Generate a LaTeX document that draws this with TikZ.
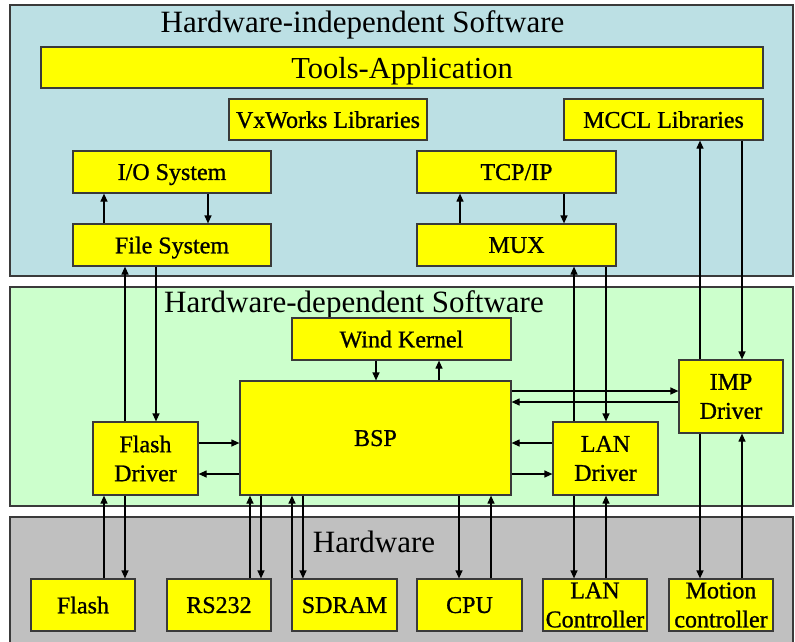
\documentclass[tikz,border=0pt]{standalone}
\usepackage{fontspec}
\setmainfont{Liberation Serif}
\newfontfamily\boxfont[FakeBold=0.9]{Liberation Serif}
\usetikzlibrary{arrows.meta}
\definecolor{panelblue}{HTML}{BCE0E4}
\definecolor{panelgreen}{HTML}{CCFFCC}
\definecolor{panelgray}{HTML}{C0C0C0}
\definecolor{edgegray}{HTML}{3A3A3A}
\definecolor{boxyellow}{HTML}{FFFF00}
\begin{document}
\begin{tikzpicture}[x=1pt,y=-1pt,
  panel/.style={draw=edgegray, line width=1.2pt},
  box/.style={draw=edgegray, fill=boxyellow, line width=1.2pt, inner sep=0pt, align=center,
    font=\boxfont\fontsize{24}{29}\selectfont},
  oneline/.style={text depth=0pt},
  ptitle/.style={anchor=base, inner sep=0pt, font=\fontsize{31}{36}\selectfont},
  arr/.style={-{Triangle[length=8pt,width=7pt]}, line width=1.2pt, draw=black}]
\useasboundingbox (0,0) rectangle (795,641);
\fill[white] (0,0) rectangle (795,641);
% panels
\draw[panel, fill=panelblue] (10,5) rectangle (793,276);
\draw[panel, fill=panelgreen] (10,287) rectangle (793,506);
\draw[panel, fill=panelgray] (10,517) rectangle (793,660);
\node[ptitle] (t1) at (362.5,32) {Hardware-independent Software};
\node[ptitle] (t2) at (354,312) {Hardware-dependent Software};
\node[ptitle] (t3) at (374,552) {Hardware};
% boxes
\node[box, oneline, minimum width=722pt, minimum height=41pt, font=\fontsize{30.5}{34}\selectfont] (tools) at (402,67.5) {Tools-Application};
\node[box, oneline, minimum width=198pt, minimum height=41pt] (vx) at (328,119.5) {VxWorks Libraries};
\node[box, oneline, minimum width=199pt, minimum height=41pt] (mccl) at (663.5,119.5) {MCCL Libraries};
\node[box, oneline, minimum width=198pt, minimum height=42pt] (io) at (172,172) {I/O System};
\node[box, oneline, minimum width=198pt, minimum height=42pt] (fs) at (172,245) {File System};
\node[box, oneline, minimum width=199pt, minimum height=42pt] (tcp) at (516.5,172) {TCP/IP};
\node[box, oneline, minimum width=199pt, minimum height=42pt] (mux) at (516.5,245) {MUX};
\node[box, oneline, minimum width=219pt, minimum height=42pt] (wind) at (401.5,339) {Wind Kernel};
\node[box, oneline, minimum width=271pt, minimum height=114pt] (bsp) at (375.5,438) {BSP};
\node[box, minimum width=105pt, minimum height=73pt] (fd) at (145.5,458.5) {Flash\\Driver};
\node[box, minimum width=105pt, minimum height=73pt] (lan) at (605.5,458.5) {LAN\\Driver};
\node[box, minimum width=104pt, minimum height=73pt] (imp) at (731,396.5) {IMP\\Driver};
\node[box, oneline, minimum width=104pt, minimum height=52pt] (flash) at (83,605) {Flash};
\node[box, oneline, minimum width=104pt, minimum height=52pt] (rs) at (219,605) {RS232};
\node[box, oneline, minimum width=105pt, minimum height=52pt] (sdram) at (344.5,605) {SDRAM};
\node[box, oneline, minimum width=105pt, minimum height=52pt] (cpu) at (469.5,605) {CPU};
\node[box, minimum width=104pt, minimum height=52pt] (lanc) at (595,605) {LAN\\Controller};
\node[box, minimum width=104pt, minimum height=52pt] (mot) at (721,605) {Motion\\controller};
% connectors
\draw[arr] (104,0 |- fs.north) -- (104,0 |- io.south);
\draw[arr] (208,0 |- io.south) -- (208,0 |- fs.north);
\draw[arr] (460,0 |- mux.north) -- (460,0 |- tcp.south);
\draw[arr] (564,0 |- tcp.south) -- (564,0 |- mux.north);
\draw[arr] (125,0 |- fd.north) -- (125,0 |- fs.south);
\draw[arr] (156,0 |- fs.south) -- (156,0 |- fd.north);
\draw[arr] (574,0 |- lan.north) -- (574,0 |- mux.south);
\draw[arr] (606,0 |- mux.south) -- (606,0 |- lan.north);
\draw[arr] (700,0 |- imp.north) -- (700,0 |- mccl.south);
\draw[arr] (742,0 |- mccl.south) -- (742,0 |- imp.north);
\draw[arr] (376,0 |- wind.south) -- (376,0 |- bsp.north);
\draw[arr] (439,0 |- bsp.north) -- (439,0 |- wind.south);
\draw[arr] (fd.east |- 0,443) -- (bsp.west |- 0,443);
\draw[arr] (bsp.west |- 0,474) -- (fd.east |- 0,474);
\draw[arr] (bsp.east |- 0,391) -- (imp.west |- 0,391);
\draw[arr] (imp.west |- 0,402) -- (bsp.east |- 0,402);
\draw[arr] (lan.west |- 0,443) -- (bsp.east |- 0,443);
\draw[arr] (bsp.east |- 0,474) -- (lan.west |- 0,474);
\draw[arr] (104,0 |- flash.north) -- (104,0 |- fd.south);
\draw[arr] (125,0 |- fd.south) -- (125,0 |- flash.north);
\draw[arr] (250,0 |- rs.north) -- (250,0 |- bsp.south);
\draw[arr] (261,0 |- bsp.south) -- (261,0 |- rs.north);
\draw[arr] (292,0 |- sdram.north) -- (292,0 |- bsp.south);
\draw[arr] (303,0 |- bsp.south) -- (303,0 |- sdram.north);
\draw[arr] (459,0 |- bsp.south) -- (459,0 |- cpu.north);
\draw[arr] (491,0 |- cpu.north) -- (491,0 |- bsp.south);
\draw[arr] (606,0 |- lanc.north) -- (606,0 |- lan.south);
\draw[arr] (574,0 |- lan.south) -- (574,0 |- lanc.north);
\draw[arr] (700,0 |- imp.south) -- (700,0 |- mot.north);
\draw[arr] (742,0 |- mot.north) -- (742,0 |- imp.south);
\end{tikzpicture}
\end{document}
